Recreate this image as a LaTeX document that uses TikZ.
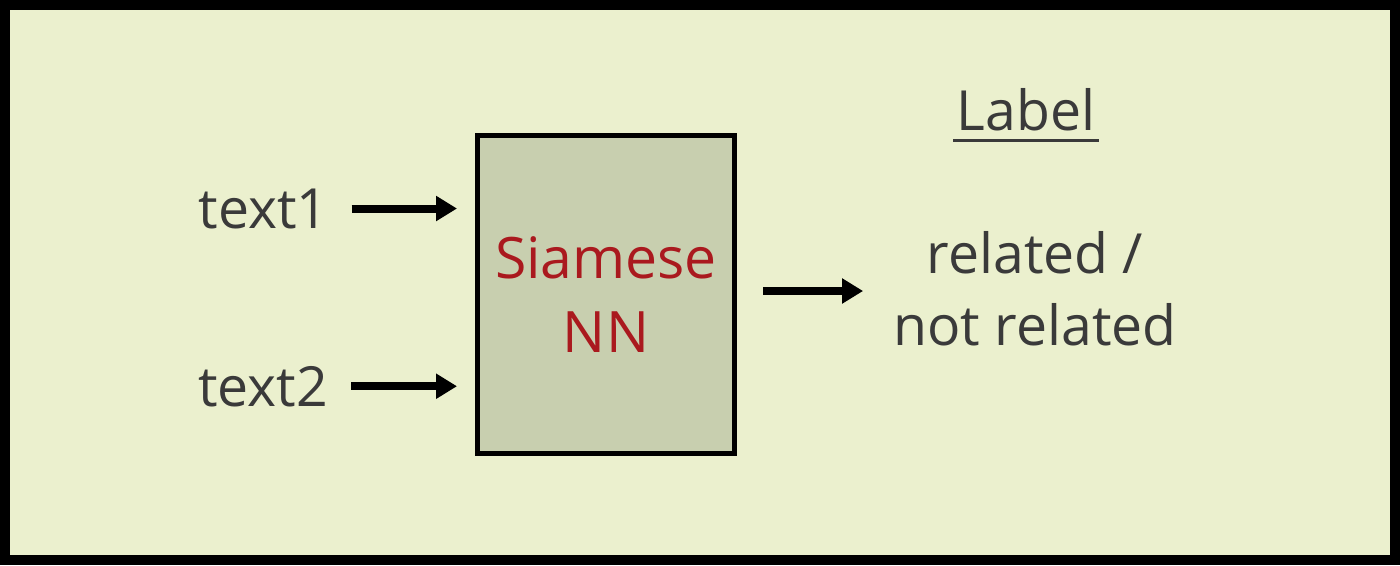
\documentclass[tikz,border=0pt]{standalone}
\usepackage{fontspec}
\setmainfont{Open Sans}
\usepackage{xcolor}
\usetikzlibrary{arrows.meta, positioning}

\definecolor{paper}{RGB}{235,240,206}
\definecolor{boxfill}{RGB}{200,207,175}
\definecolor{inkgray}{RGB}{58,58,58}
\definecolor{nnred}{RGB}{170,25,30}

\begin{document}
\begin{tikzpicture}[x=0.02cm, y=-0.02cm,
        every node/.style={font=\fontsize{31.5}{41}\selectfont, text=inkgray, inner sep=0pt},
        netbox/.style={draw=black, line width=0.1cm, fill=boxfill, minimum width=5.16cm,
            minimum height=6.38cm, text=nnred, align=center,
            font=\fontsize{32.5}{42.5}\selectfont},
        flow/.style={line width=0.16cm, -{Triangle[length=0.42cm, width=0.48cm]}}]
        % frame
        \fill[black] (0,0) rectangle (1400,565);
        \fill[paper] (10,10) rectangle (1390,555);
        \useasboundingbox (0,0) rectangle (1400,565);
        % inputs and network
        \node[anchor=base] (t1) at (263.5,228) {text1};
        \node[anchor=base] (t2) at (263,406) {text2};
        \node[netbox] (nn) at (606,294.5) {Siamese\\NN};
        % output
        \node[anchor=base] (lab) at (1026,130) {Label};
        \draw[inkgray, line width=0.06cm] ([xshift=-0.06cm, yshift=-0.2cm]lab.base west) -- ([xshift=0.06cm, yshift=-0.2cm]lab.base east);
        \node[align=center] (out) at (1035,289) {related /\\not related};
        \draw[flow, shorten <=0.46cm, shorten >=0.35cm] (t1.east) -- (t1.east -| nn.west);
        \draw[flow, shorten <=0.46cm, shorten >=0.35cm] (t2.east) -- (t2.east -| nn.west);
        \draw[flow, shorten <=0.52cm, shorten >=0.6cm] (nn.east |- 0,291) -- (out.west |- 0,291);
    \end{tikzpicture}
\end{document}
